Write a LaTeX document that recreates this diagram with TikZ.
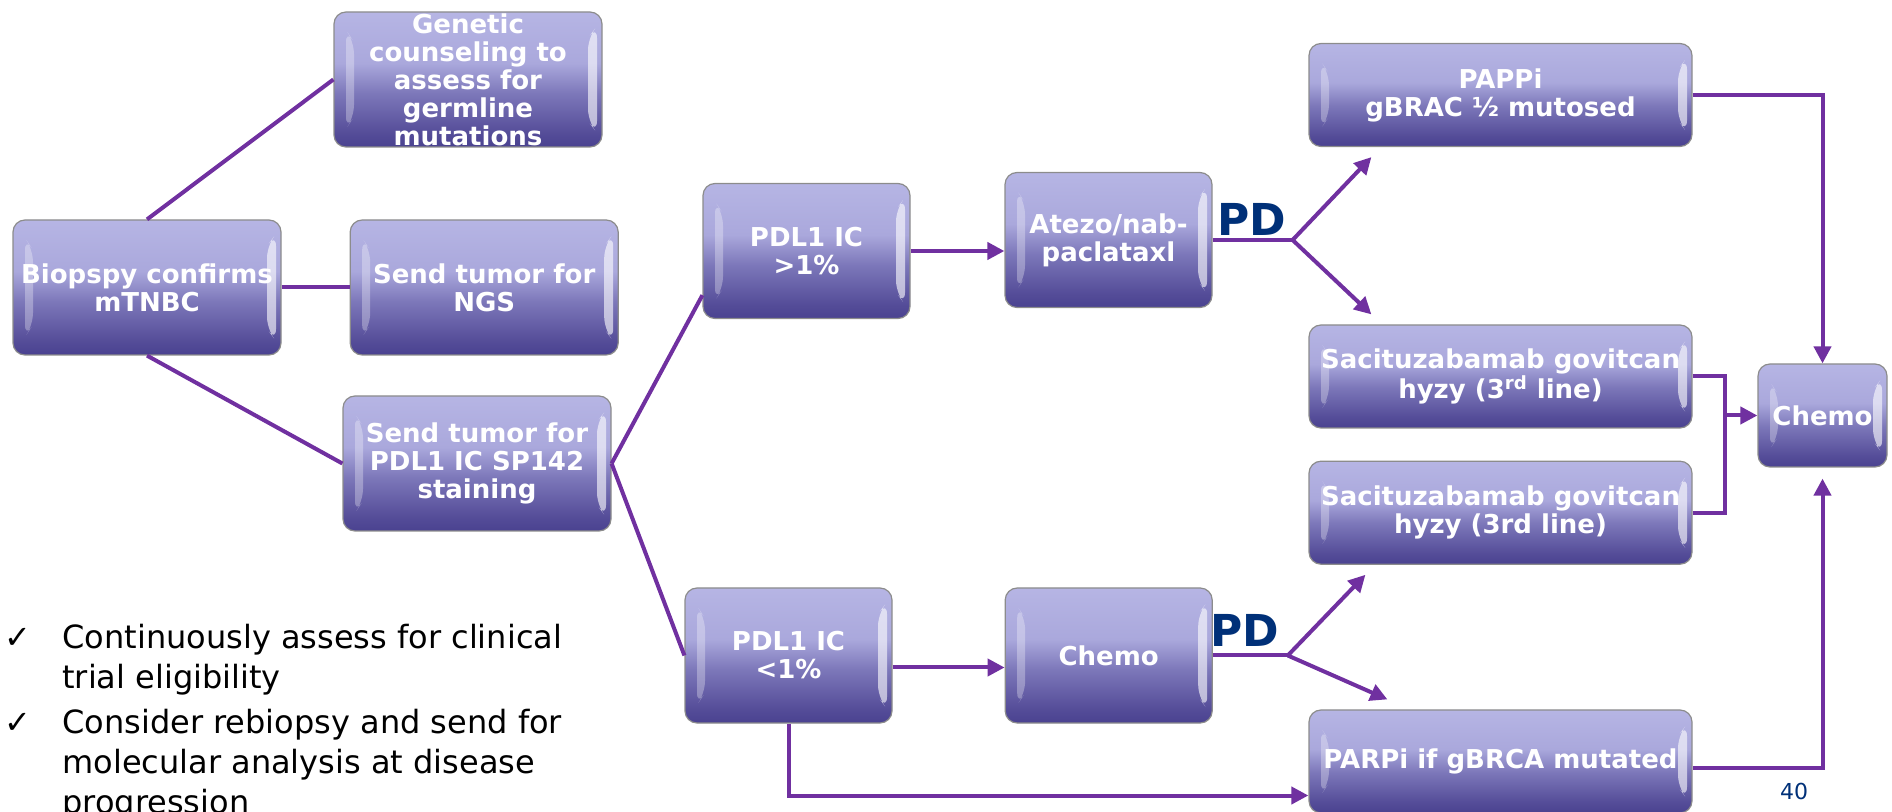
\documentclass[tikz,border=0pt]{standalone}
\usepackage{fontspec}
\setmainfont{DejaVu Sans}
\usepackage{tikz}
\usetikzlibrary{
	positioning,
	arrows.meta,
	calc
}

\definecolor{linepurple}{RGB}{112,48,160}
\definecolor{pdnavy}{RGB}{0,48,120}
\definecolor{boxtop}{RGB}{182,181,228}
\definecolor{boxhigh}{RGB}{170,168,220}
\definecolor{boxmid}{RGB}{125,120,186}
\definecolor{boxlow}{RGB}{84,76,152}
\definecolor{boxbot}{RGB}{74,66,144}
\pgfdeclareverticalshading{boxshade}{100bp}{color(0bp)=(boxbot); color(25bp)=(boxbot); color(30bp)=(boxlow); color(45bp)=(boxmid); color(56bp)=(boxhigh); color(75bp)=(boxtop); color(100bp)=(boxtop)}

\newcommand{\tickmark}{\makebox[29pt][l]{✓}}
\newcommand{\tickgap}{\hspace*{29pt}}

\tikzset{
	stepbox/.style={rectangle, rounded corners=6pt, draw=black!45, line width=0.6pt,
		shade, shading=boxshade, text=white, align=center, inner sep=0pt,
		font=\bfseries\fontsize{13}{14}\selectfont,
		path picture={
			\fill[white,opacity=.3] ($(path picture bounding box.north west)+(6pt,-9pt)$) -- ($(path picture bounding box.north west)+(10pt,-15pt)$) -- ($(path picture bounding box.south west)+(10pt,15pt)$) -- ($(path picture bounding box.south west)+(6pt,9pt)$) -- cycle;
			\fill[white,opacity=.6] ($(path picture bounding box.north east)+(-2.5pt,-7pt)$) -- ($(path picture bounding box.north east)+(-7pt,-13pt)$) -- ($(path picture bounding box.south east)+(-7pt,13pt)$) -- ($(path picture bounding box.south east)+(-2.5pt,7pt)$) -- cycle;
		}},
	bigbox/.style={stepbox, minimum width=134pt, minimum height=67.5pt},
	midbox/.style={stepbox, minimum width=103.5pt, minimum height=67.5pt},
	widebox/.style={stepbox, minimum width=191.5pt, minimum height=51.5pt},
	endbox/.style={stepbox, minimum width=64.5pt, minimum height=51.5pt},
	conn/.style={draw=linepurple, line width=2pt},
	arr/.style={conn, -{Triangle[length=8.5pt,width=8.5pt]}},
	pdlabel/.style={text=pdnavy, inner sep=0pt, font=\bfseries\fontsize{22}{22}\selectfont}
}

\begin{document}
\begin{tikzpicture}[x=0.5pt,y=-0.5pt]
    \useasboundingbox (0,0) rectangle (1892,812);

    % left part
    \node[bigbox] (biopsy) at (147,287.5) {Biopspy confirms\\mTNBC};
    \node[bigbox] (genetic) at (468,79.5) {Genetic\\counseling to\\assess for\\germline\\mutations};
    \node[bigbox, right=34pt of biopsy] (ngs) {Send tumor for\\NGS};
    \node[bigbox] (sendpdl) at (477,463.5) {Send tumor for\\PDL1 IC SP142\\staining};

    % PDL1 split
    \node[midbox] (pdlhi) at (806.5,251) {PDL1 IC\\>1\%};
    \node[midbox] (pdllo) at (788.5,655.5) {PDL1 IC\\<1\%};
    \node[midbox] (atezo) at (1108.5,240) {Atezo/nab-\\paclataxl};
    \node[midbox, right=56pt of pdllo] (chemo) {Chemo};

    % later lines
    \node[widebox] (pappi) at (1500.5,95) {PAPPi\\gBRAC ½ mutosed};
    \node[widebox] (sac1) at (1500.5,376.5) {Sacituzabamab govitcan\\hyzy (3\textsuperscript{rd} line)};
    \node[widebox, below=16pt of sac1] (sac2) {Sacituzabamab govitcan\\hyzy (3rd line)};
    \node[widebox] (parpi) at (1500.5,761.5) {PARPi if gBRCA mutated};
    \node[endbox] (chemoR) at (1822.5,415.5) {Chemo};

    \coordinate[right=40pt of atezo.east] (fork1);
    \coordinate[right=37.5pt of chemo.east] (fork2);
    \coordinate[left=16pt of chemoR.west] (merge);

    \node[pdlabel, above left=2pt and 3pt of fork1] (pd1) {PD};
    \node[pdlabel, above left=4.5pt and 4pt of fork2] (pd2) {PD};

    \node[anchor=north west, align=left, inner sep=0pt, font=\fontsize{16}{20}\selectfont] (notes) at (4,624)
        {\tickmark Continuously assess for clinical\\
         \tickgap trial eligibility\\[2.5pt]
         \tickmark Consider rebiopsy and send for\\
         \tickgap molecular analysis at disease\\
         \tickgap progression};
    \node[text=pdnavy, inner sep=0pt, font=\fontsize{11}{11}\selectfont] (pagenum) at (1794,791) {40};

    \draw[conn] (biopsy.north) -- (genetic.west);
    \draw[conn] (biopsy.east) -- (ngs.west);
    \draw[conn] (biopsy.south) -- (sendpdl.west);
    \draw[conn] (sendpdl.east) -- (pdlhi.203);
    \draw[conn] (sendpdl.east) -- (pdllo.west);
    \draw[arr] (pdlhi.east) -- (pdlhi.east -| atezo.west);
    \draw[arr] ([yshift=-6pt]pdllo.east) -- ([yshift=-6pt]chemo.west);
    \draw[arr] (pdllo.south) |- ([yshift=-17pt]parpi.west);

    \draw[conn] (atezo.east) -- (fork1);
    \draw[arr] (fork1) -- ([xshift=31.5pt,yshift=-5pt]pappi.south west);
    \draw[arr] (fork1) -- ([xshift=31.5pt,yshift=5pt]sac1.north west);
    \draw[conn] (chemo.east) -- (fork2);
    \draw[arr] (fork2) -- ([xshift=28.5pt,yshift=-5pt]sac2.south west);
    \draw[arr] (fork2) -- ([xshift=39.5pt,yshift=5pt]parpi.north west);

    \draw[arr] (pappi.east) -| (chemoR.north);
    \draw[conn] (sac1.east) -| (merge);
    \draw[conn] (sac2.east) -| (merge);
    \draw[arr] (merge) -- (chemoR.west);
    \draw[arr] ([yshift=-3pt]parpi.east) -| ([yshift=-5.5pt]chemoR.south);
\end{tikzpicture}
\end{document}
